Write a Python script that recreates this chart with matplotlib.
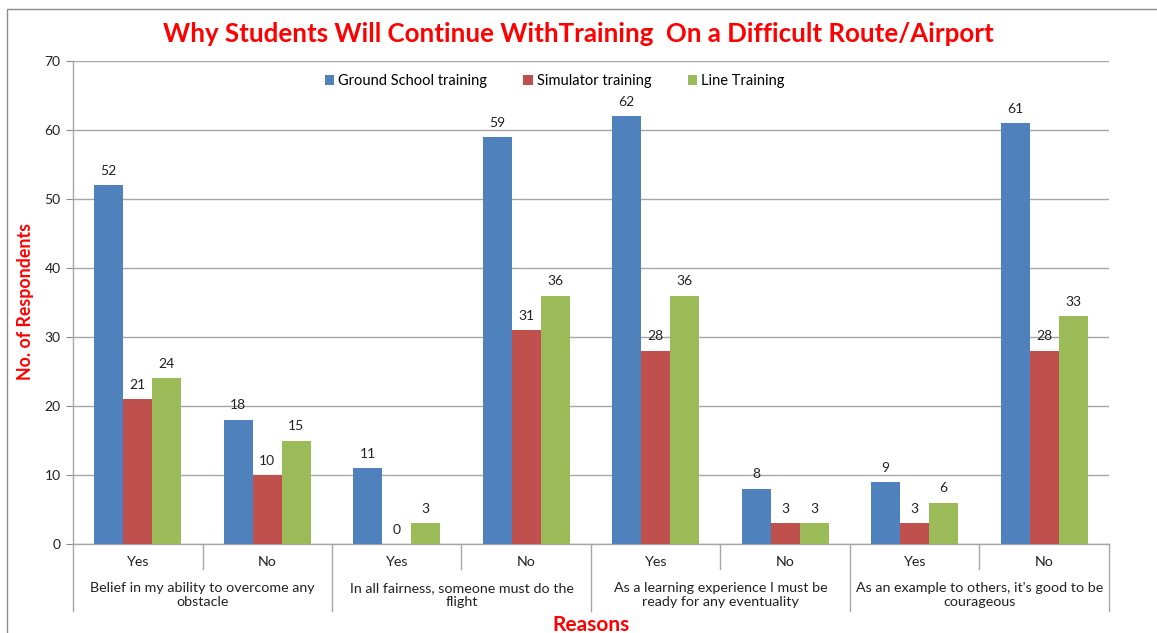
import matplotlib.pyplot as plt
import numpy as np
from matplotlib.patches import Rectangle
from matplotlib.transforms import blended_transform_factory

plt.rcParams['font.family'] = ['Lato', 'DejaVu Sans']

# Data
groups = ["Belief in my ability to overcome any\nobstacle",
          "In all fairness, someone must do the\nflight",
          "As a learning experience I must be\nready for any eventuality",
          "As an example to others, it's good to be\ncourageous"]
answers = ["Yes", "No"] * 4
ground = [52, 18, 11, 59, 62, 8, 9, 61]
simulator = [21, 10, 0, 31, 28, 3, 3, 28]
line_tr = [24, 15, 3, 36, 36, 3, 6, 33]

series = [("Ground School training", ground, "#4F81BD"),
          ("Simulator training", simulator, "#C0504D"),
          ("Line Training", line_tr, "#9BBB59")]

fig = plt.figure(figsize=(11.57, 6.33), dpi=100)
ax = fig.add_axes([0.0631, 0.1406, 0.8954, 0.7630])

# outer chart frame
fig.patches.append(Rectangle((7 / 1157, -0.1), 1.2, 1 - 9 / 633 + 0.1,
                             transform=fig.transFigure, fill=False,
                             edgecolor="#8c8c8c", linewidth=1.0))

x = np.arange(len(answers))
w = 0.224
for i, (name, vals, col) in enumerate(series):
    pos = x + (i - 1) * w
    ax.bar(pos, vals, width=w, color=col, label=name, zorder=3)
    for px, v in zip(pos, vals):
        ax.annotate(str(v), (px, v), textcoords="offset points", xytext=(0, 6),
                    ha="center", va="bottom", fontsize=10, color="#222222")

ax.set_xlim(-0.5, 7.5)
ax.set_ylim(0, 70)
ax.set_yticks(range(0, 71, 10))
ax.tick_params(axis="y", length=5, color="#8c8c8c", labelsize=10, labelcolor="#222222", pad=4)
ax.set_xticks([])
ax.grid(axis="y", color="#a6a6a6", linewidth=1.0, zorder=0)

for s in ["top", "right"]:
    ax.spines[s].set_visible(False)
ax.spines["left"].set_color("#a6a6a6")
ax.spines["bottom"].set_color("#a6a6a6")
ax.spines["left"].set_linewidth(1.0)
ax.spines["bottom"].set_linewidth(1.0)

# two-level category axis
tr = blended_transform_factory(ax.transData, ax.transAxes)
for b in np.arange(-0.5, 8, 1.0):
    outer = int(round(b + 0.5)) % 2 == 0
    y_end = -0.1387 if outer else -0.0518
    ax.plot([b, b], [0, y_end], transform=tr, color="#a6a6a6", linewidth=1.0, clip_on=False)

for xi, a in zip(x, answers):
    ax.text(xi, -0.037, a, transform=tr, ha="center", va="center", fontsize=10.3, color="#222222")

for gi, g in enumerate(groups):
    ax.text(2 * gi + 0.5, -0.1065, g, transform=tr, ha="center", va="center",
            fontsize=10.3, color="#222222", linespacing=1.2)

ax.legend(loc="upper center", bbox_to_anchor=(0.465, 1.0), ncol=3, frameon=False,
          fontsize=10.5, handlelength=0.62, handleheight=0.62, columnspacing=2.5,
          handletextpad=0.3)

fig.text(0.5, 1 - 34 / 633, "Why Students Will Continue WithTraining  On a Difficult Route/Airport",
         ha="center", va="center", fontsize=18.6, fontweight="bold", color="#FF0000")
fig.text(591 / 1157, 1 - 625 / 633, "Reasons", ha="center", va="center",
         fontsize=15, fontweight="bold", color="#FF0000")
fig.text(26 / 1157, 1 - 302 / 633, "No. of Respondents", ha="center", va="center",
         rotation=90, fontsize=12.8, fontweight="bold", color="#FF0000")

fig.savefig("out.png", dpi=100)
